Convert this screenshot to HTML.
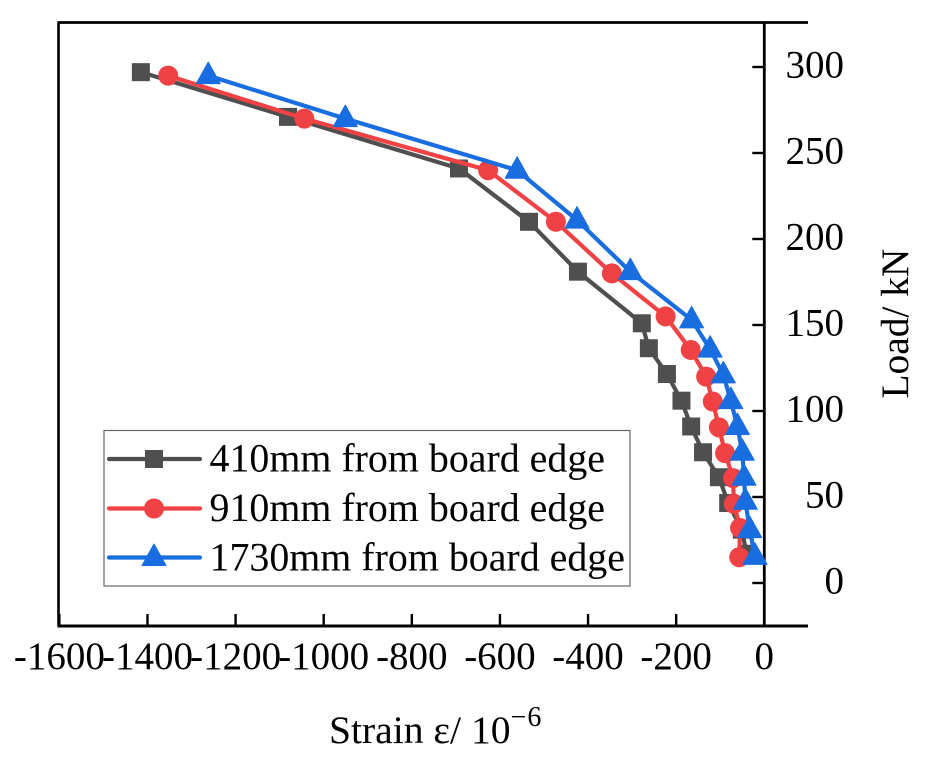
<!DOCTYPE html>
<html>
<head>
<meta charset="utf-8">
<title>Load vs Strain</title>
<style>
html,body{margin:0;padding:0;background:#fff;}
svg{display:block;}
text{font-family:"Liberation Serif",serif;fill:#000;}
</style>
</head>
<body>
<svg id="chart" xmlns="http://www.w3.org/2000/svg" width="938" height="768" viewBox="0 0 938 768">
  <rect x="0" y="0" width="938" height="768" fill="#fff"/>
  <g id="axes"></g>
  <g id="series"></g>
  <text x="329" y="743" font-size="39.6">Strain ε/ 10<tspan dy="-17" font-size="28" letter-spacing="1">−6</tspan></text>
  <text transform="translate(908,398.5) rotate(-90)" font-size="39.4">Load/ kN</text>
  <g id="legend">
    <rect x="104" y="430.5" width="526" height="155.5" fill="#fff" stroke="#666" stroke-width="1.2"/>
    <g id="legend-keys"></g>
    <text x="209.5" y="471.5" font-size="39.9">410mm from board edge</text>
    <text x="209.5" y="521" font-size="39.9">910mm from board edge</text>
    <text x="209.5" y="570.5" font-size="39.9">1730mm from board edge</text>
  </g>
</svg>
<script>
var xTicks = [-1600, -1400, -1200, -1000, -800, -600, -400, -200, 0];
var yTicks = [0, 50, 100, 150, 200, 250, 300];
var yTickLabels = ["0", "50", "100", "150", "200", "250", "300"];

var strain410 = [-1415, -1081, -693, -534, -423, -278, -262, -221, -188, -166, -139, -103, -82, -51, -40];
var load410 = [297, 271, 241, 210, 181, 151, 136.5, 121.5, 106, 91, 76, 61.5, 46.5, 31, 17];

var strain910 = [-1353, -1044, -627, -473, -346, -224, -167, -132, -117, -103, -89, -71, -69, -55, -57];
var load910 = [295, 270, 240, 210, 180, 155, 135.5, 120, 105.5, 90.5, 75.5, 61, 46, 32, 15];

var strain1730 = [-1262, -951, -561, -425, -304, -165, -123, -93, -76, -61, -50, -46, -43, -33, -21];
var load1730 = [295, 270, 240, 211, 181, 153, 136, 121, 106, 91, 76, 61.5, 47.5, 31, 15.5];

var NS = 'http://www.w3.org/2000/svg';
function X(v) { return 764.3 + v * 0.4406; }
function Y(v) { return 583 - v * 1.72; }
function make(tag, attrs, parent) {
  var el = document.createElementNS(NS, tag);
  for (var k in attrs) { el.setAttribute(k, attrs[k]); }
  parent.appendChild(el);
  return el;
}
var axes = document.getElementById('axes');
var seriesLayer = document.getElementById('series');
var keys = document.getElementById('legend-keys');
var AXIS_TOP = 22.5, AXIS_BOTTOM = 626, AXIS_LEFT = 58.5, AXIS_END = 808;

function axisLine(x1, y1, x2, y2, name, w) {
  var el = make('line', {x1: x1, y1: y1, x2: x2, y2: y2, stroke: '#000', 'stroke-width': w}, axes);
  
  
}
axisLine(AXIS_LEFT - 1, AXIS_TOP, AXIS_END, AXIS_TOP, 'top-spine', 2.8);
axisLine(AXIS_LEFT, AXIS_TOP, AXIS_LEFT, AXIS_BOTTOM, 'left-spine', 2.6);
axisLine(AXIS_LEFT - 1, AXIS_BOTTOM, AXIS_END, AXIS_BOTTOM, 'x-axis-line', 3);
axisLine(X(0), AXIS_TOP, X(0), AXIS_BOTTOM, 'y-axis-line', 2.8);

xTicks.forEach(function (t) {
  axisLine(X(t), AXIS_BOTTOM, X(t), AXIS_BOTTOM - 12, 'x-tick', 2.4);
  var lab = make('text', {x: X(t), y: 669, 'font-size': 39, 'text-anchor': 'middle'}, axes);
  lab.textContent = String(t);
  
  
});
yTicks.forEach(function (t, i) {
  axisLine(X(0), Y(t), X(0) - 12, Y(t), 'y-tick', 2.4);
  var lab = make('text', {x: 844, y: Y(t) + 10.5, 'font-size': 39, 'text-anchor': 'end'}, axes);
  lab.textContent = yTickLabels[i];
  
  
});

function marker(kind, x, y, color, parent) {
  var el;
  if (kind === 'square') {
    el = make('rect', {x: x - 9, y: y - 9, width: 18, height: 18, fill: color}, parent);
  } else if (kind === 'circle') {
    el = make('circle', {cx: x, cy: y, r: 10, fill: color}, parent);
  } else {
    el = make('polygon', {points: (x - 12) + ',' + (y + 8) + ' ' + x + ',' + (y - 13.5) + ' ' + (x + 12) + ',' + (y + 8), fill: color, stroke: color, 'stroke-width': 1, 'stroke-linejoin': 'round'}, parent);
  }
  return el;
}
function drawSeries(xs, ys, kind, color, name) {
  var g = make('g', {}, seriesLayer);
  
  
  var pts = xs.map(function (v, i) { return X(v) + ',' + Y(ys[i]); }).join(' ');
  var line = make('polyline', {points: pts, fill: 'none', stroke: color, 'stroke-width': 4.2, 'stroke-linejoin': 'round'}, g);
  
  
  xs.forEach(function (v, i) {
    var m = marker(kind, X(v), Y(ys[i]), color, g);
    
    
  });
}
drawSeries(strain410, load410, 'square', '#4f4f4f', 'series-410mm');
drawSeries(strain910, load910, 'circle', '#f04144', 'series-910mm');
drawSeries(strain1730, load1730, 'triangle', '#186de0', 'series-1730mm');

function legendKey(y, kind, color) {
  var l = make('line', {x1: 109, y1: y, x2: 200, y2: y, stroke: color, 'stroke-width': 4.2, 'stroke-linecap': 'round'}, keys);
  
  
  var m = marker(kind, 154, y, color, keys);
  
  
}
legendKey(459, 'square', '#4f4f4f');
legendKey(508.5, 'circle', '#f04144');
legendKey(557.5, 'triangle', '#186de0');
</script>
</body>
</html>
